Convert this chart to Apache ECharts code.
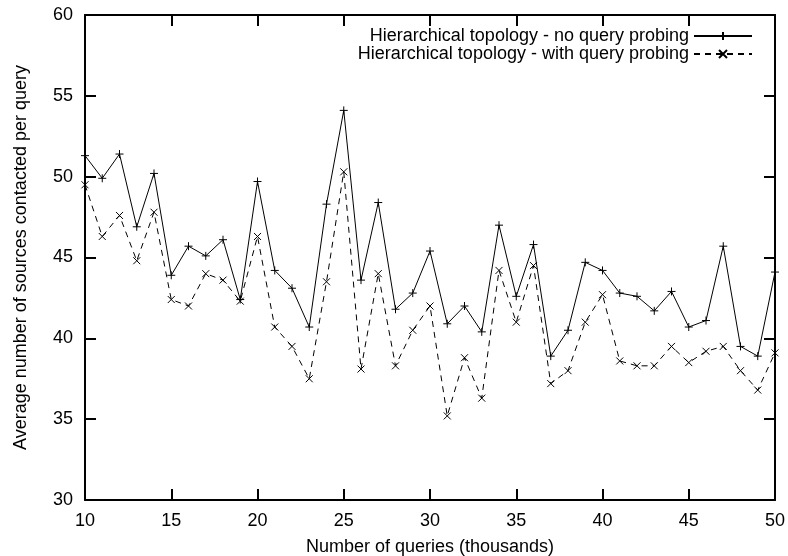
<!DOCTYPE html>
<html style="height: 100%">
    <head>
        <meta charset="utf-8">
    </head>
    <body style="height: 100%; margin: 0; background: #fff">
        <div id="container" style="width: 788px; height: 556px"></div>

        <script type="text/javascript" src="https://cdn.jsdelivr.net/npm/echarts@6/dist/echarts.min.js"></script>
        <script type="text/javascript">
var queries = [10, 11, 12, 13, 14, 15, 16, 17, 18, 19, 20, 21, 22, 23, 24, 25, 26, 27, 28, 29, 30,
    31, 32, 33, 34, 35, 36, 37, 38, 39, 40, 41, 42, 43, 44, 45, 46, 47, 48, 49, 50];

var noProbing = [51.3, 49.9, 51.4, 46.9, 50.2, 43.9, 45.7, 45.1, 46.1, 42.4, 49.7,
    44.2, 43.1, 40.7, 48.3, 54.1, 43.6, 48.4, 41.8, 42.8, 45.4,
    40.9, 42.0, 40.4, 47.0, 42.6, 45.8, 38.9, 40.5, 44.7, 44.2,
    42.8, 42.6, 41.7, 42.9, 40.7, 41.1, 45.7, 39.5, 38.9, 44.1];

var withProbing = [49.5, 46.3, 47.6, 44.8, 47.8, 42.4, 42.0, 44.0, 43.6, 42.3, 46.3,
    40.7, 39.5, 37.5, 43.5, 50.3, 38.1, 44.0, 38.3, 40.5, 42.0,
    35.2, 38.8, 36.3, 44.2, 41.0, 44.5, 37.2, 38.0, 41.0, 42.7,
    38.6, 38.3, 38.3, 39.5, 38.5, 39.2, 39.5, 38.0, 36.8, 39.1];

var seriesNames = ['Hierarchical topology - no query probing', 'Hierarchical topology - with query probing'];

var dom = document.getElementById("container");
var myChart = echarts.init(dom, null, { renderer: 'canvas' });

var font = 'Liberation Sans, Arial, Helvetica, sans-serif';
var plusPath = 'path://M0,5L10,5M5,0L5,10';
var crossPath = 'path://M0,0L10,10M10,0L0,10';

function pairs(ys) {
    return queries.map(function (x, i) { return [x, ys[i]]; });
}

var baseX = {
    type: 'value',
    min: 10,
    max: 50,
    interval: 5,
    axisLine: { show: true, lineStyle: { color: '#000', width: 2 } },
    axisTick: { show: true, inside: true, length: 11, lineStyle: { color: '#000', width: 2 } },
    splitLine: { show: false }
};
var baseY = {
    type: 'value',
    min: 30,
    max: 60,
    interval: 5,
    axisLine: { show: true, lineStyle: { color: '#000', width: 2 } },
    axisTick: { show: true, inside: true, length: 11, lineStyle: { color: '#000', width: 2 } },
    splitLine: { show: false }
};

var option = {
    animation: false,
    backgroundColor: '#fff',
    textStyle: { fontFamily: font },
    grid: { left: 85, right: 13, top: 15, bottom: 56, outerBoundsMode: 'none', containLabel: false },
    legend: {
        orient: 'vertical',
        right: 30,
        top: 22,
        align: 'right',
        itemWidth: 58,
        itemHeight: 10,
        itemGap: 0,
        textStyle: { fontFamily: font, fontSize: 18, lineHeight: 17, color: '#000' },
        data: seriesNames
    },
    xAxis: [
        Object.assign({}, baseX, {
            position: 'bottom',
            name: 'Number of queries (thousands)',
            nameLocation: 'middle',
            nameGap: 38,
            nameTextStyle: { fontFamily: font, fontSize: 18, color: '#000' },
            axisLabel: { fontFamily: font, fontSize: 18, color: '#000', margin: 12 }
        }),
        Object.assign({}, baseX, { position: 'top', axisLabel: { show: false } })
    ],
    yAxis: [
        Object.assign({}, baseY, {
            position: 'left',
            name: 'Average number of sources contacted per query',
            nameLocation: 'middle',
            nameGap: 55,
            nameTextStyle: { fontFamily: font, fontSize: 18, color: '#000' },
            axisLabel: { fontFamily: font, fontSize: 18, color: '#000', margin: 12 }
        }),
        Object.assign({}, baseY, { position: 'right', axisLabel: { show: false } })
    ],
    series: [{
        name: seriesNames[0],
        type: 'line',
        data: pairs(noProbing),
        symbol: plusPath,
        symbolSize: 8,
        showAllSymbol: true,
        lineStyle: { color: '#000', width: 1 },
        itemStyle: { color: 'none', borderColor: '#000', borderWidth: 1 }
    }, {
        name: seriesNames[1],
        type: 'line',
        data: pairs(withProbing),
        symbol: crossPath,
        symbolSize: 7,
        showAllSymbol: true,
        lineStyle: { color: '#000', width: 1, type: [6, 5] },
        itemStyle: { color: 'none', borderColor: '#000', borderWidth: 1 }
    }]
};

if (option && typeof option === 'object') {
    myChart.setOption(option);
}
        </script>
    </body>
</html>
